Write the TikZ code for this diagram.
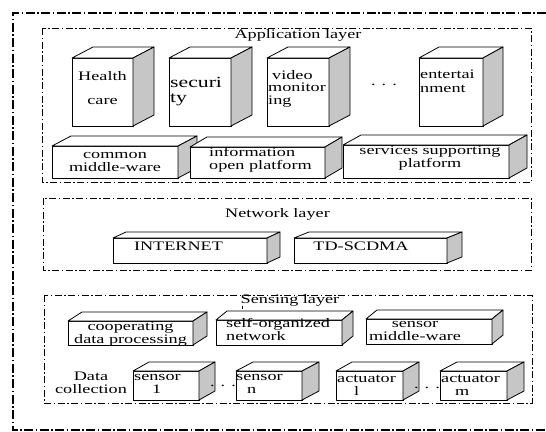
\documentclass[tikz,border=0pt]{standalone}
\usepackage{fontspec}
\setmainfont{Liberation Serif}[FakeStretch=1.4]
\tikzset{
	frame/.style={line width=1.3pt, dash pattern=on 9pt off 2.5pt on 1.5pt off 2.5pt},
	layer/.style={line width=1pt, dash pattern=on 7pt off 2.5pt on 1.5pt off 2.5pt},
	face/.style={draw, line width=0.8pt, fill=white, line join=round},
	side/.style={draw, line width=0.8pt, fill=gray!45, line join=round},
	txt/.style={inner sep=0pt, font=\fontsize{13}{12.5}\selectfont},
}
% block: front face (#1,#2)--(#3,#4), depth (#5,#6)
\newcommand{\block}[6]{%
	\draw [face] (#1,#2) rectangle (#3,#4);
	\draw [face] (#1,#2) -- (#1+#5,#2-#6) -- (#3+#5,#2-#6) -- (#3,#2) -- cycle;
	\draw [side] (#3,#2) -- (#3+#5,#2-#6) -- (#3+#5,#4-#6) -- (#3,#4) -- cycle;
}
\begin{document}
\begin{tikzpicture}[x=1pt,y=-1pt]
	\useasboundingbox (0,0) rectangle (546,431);
	% Frame
	\draw [frame] (546,13) -- (13,13) -- (13,430) -- (546,430);
	% Application layer
	\draw [layer] (42,28) rectangle (531,182);
	\node [txt, anchor=base] (apptitle) at (298,38) {Application layer};
	\block{72}{58}{133}{126}{21}{11}
	\block{169}{58}{231}{126}{21}{11}
	\block{267}{58}{329}{126}{21}{11}
	\block{419}{58}{483}{126}{20}{11}
	\node [txt, anchor=base] (health) at (102.5,80) {Health};
	\node [txt, anchor=base] (care) at (102.5,104) {care};
	\node [txt, anchor=base west, align=left, font=\fontsize{15.5}{15}\selectfont] (secu) at (170,102) {securi\\ty};
	\node [txt, anchor=base west, align=left] (video) at (268,104) {\hspace{4pt}video\\monitor\\ing};
	\node [txt, anchor=base] (appdots) at (384,85) {. . .};
	\node [txt, anchor=base west, align=left, font=\fontsize{13}{14}\selectfont] (ent) at (420,92) {entertai\\nment};
	\block{52}{146}{178}{178}{19}{10}
	\block{190}{147}{325}{178}{17}{10}
	\block{343}{145}{509}{178}{18}{10}
	\node [txt, anchor=base, align=center] (common) at (115,171) {common\\middle-ware};
	\node [txt, anchor=base west, align=left] (info) at (209,169) {information\\open platform};
	\node [txt, anchor=base, align=center] (serv) at (430,167) {services supporting\\platform};
	% Network layer
	\draw [layer] (43,198) rectangle (531,270);
	\node [txt, anchor=base] (nettitle) at (277.5,217) {Network layer};
	\block{113}{238}{267}{263}{13}{6}
	\block{294}{238}{447}{263}{15}{6}
	\node [txt, anchor=base] (inet) at (178.5,250) {INTERNET};
	\node [txt, anchor=base] (td) at (361,250) {TD-SCDMA};
	% Sensing layer
	\draw [layer] (44,295) rectangle (532,403);
	\node [txt, anchor=base] (senstitle) at (290,303) {Sensing layer};
	\draw [line width=0.6pt] (242,306) -- (242,309);
	\block{68}{321}{193}{345}{14}{9}
	\block{216}{320}{342}{345}{11}{9}
	\block{366}{319}{492}{344}{11}{9}
	\node [txt, anchor=base, align=center] (coop) at (130.5,343) {cooperating\\data processing};
	\node [txt, anchor=base west, align=left] (selforg) at (226,340) {self-organized\\network};
	\node [txt, anchor=base, align=center] (smw) at (415,340) {sensor\\middle-ware};
	\node [txt, anchor=base, align=center] (datacoll) at (91,393) {Data\\collection};
	\block{133}{371}{199}{400}{16}{9}
	\block{236}{371}{302}{400}{17}{9}
	\block{336}{371}{403}{400}{16}{9}
	\block{440}{371}{507}{400}{17}{9}
	\node [txt, anchor=base west, align=left] (sens1) at (134,393) {sensor\\\hspace{18pt}1};
	\node [txt, anchor=base] (sensdots) at (223,386) {. . .};
	\node [txt, anchor=base west, align=left] (sensn) at (236,393) {sensor\\\hspace{11pt}n};
	\node [txt, anchor=base west, align=left] (act1) at (337,395) {actuator\\\hspace{17pt}l};
	\node [txt, anchor=base] (actdots) at (427,388) {. . .};
	\node [txt, anchor=base west, align=left] (actm) at (441,395) {actuator\\\hspace{14pt}m};
\end{tikzpicture}
\end{document}
